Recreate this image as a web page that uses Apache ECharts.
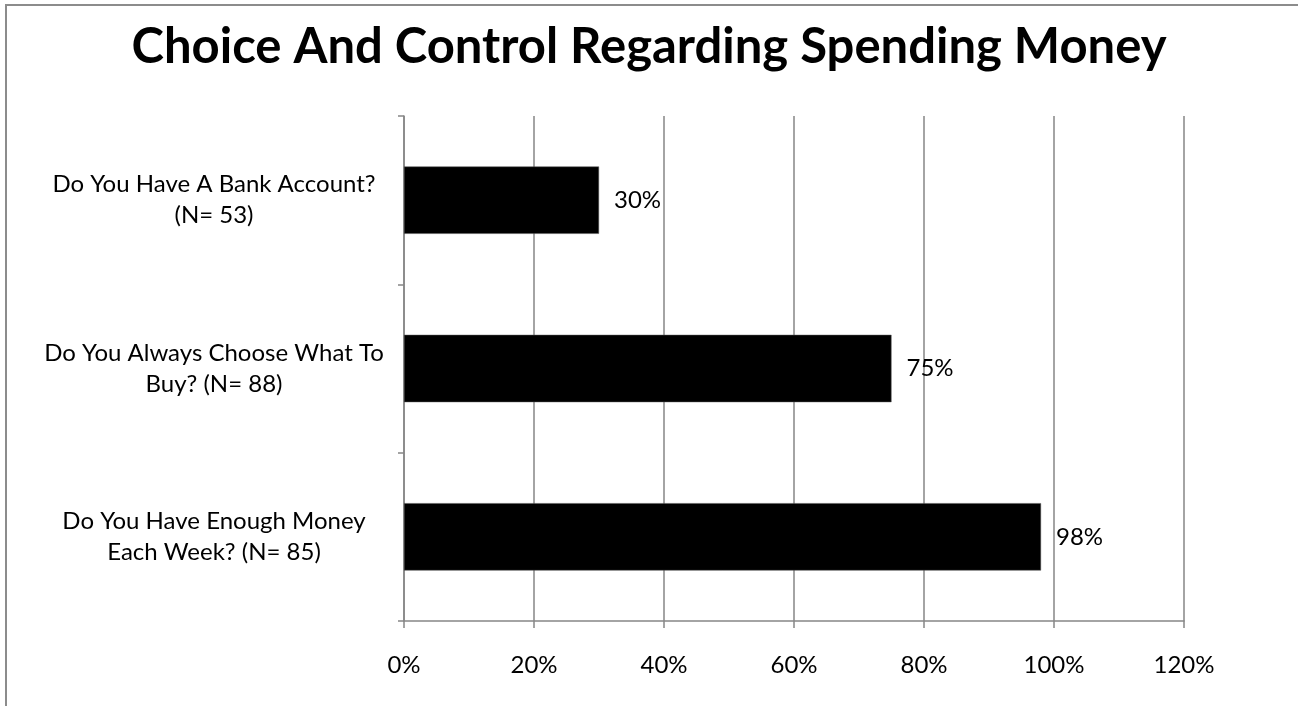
<!DOCTYPE html>
<html>
<head>
<meta charset="utf-8">
<script src="https://cdn.jsdelivr.net/npm/echarts@6/dist/echarts.min.js"></script>
<style>
html,body{margin:0;padding:0;background:#fff;}
#chart{width:1298px;height:706px;}
</style>
</head>
<body>
<div id="chart"></div>
<script>
const titleText = 'Choice And Control Regarding Spending Money';
const categories = [
  'Do You Have A Bank Account?\n(N= 53)',
  'Do You Always Choose What To\nBuy? (N= 88)',
  'Do You Have Enough Money\nEach Week? (N= 85)'
];
const values = [30, 75, 98];
const xTicks = [0, 20, 40, 60, 80, 100, 120];

const chart = echarts.init(document.getElementById('chart'), null, {renderer: 'canvas'});
const FONT = 'Lato, "Open Sans", sans-serif';
chart.setOption({
  backgroundColor: '#fff',
  animation: false,
  title: {
    text: titleText,
    left: 'center',
    top: 18,
    textStyle: {fontFamily: FONT, fontWeight: 'bold', fontSize: 49, color: '#000'}
  },
  graphic: [{
    type: 'rect',
    shape: {x: 6, y: 5, width: 1400, height: 800},
    style: {fill: 'none', stroke: '#8c8c8c', lineWidth: 2},
    silent: true
  }],
  grid: {left: 404, right: 114, top: 116, bottom: 85, containLabel: false},
  xAxis: {
    type: 'value',
    min: xTicks[0],
    max: xTicks[xTicks.length - 1],
    interval: 20,
    axisLine: {show: true, lineStyle: {color: '#868686', width: 1.5}},
    axisTick: {show: true, length: 7, lineStyle: {color: '#868686', width: 1.5}},
    splitLine: {show: true, lineStyle: {color: '#868686', width: 1.5}},
    axisLabel: {
      margin: 32,
      fontFamily: FONT, fontSize: 24, color: '#000',
      formatter: v => v + '%'
    }
  },
  yAxis: {
    type: 'category',
    inverse: true,
    data: categories,
    axisLine: {show: true, lineStyle: {color: '#868686', width: 1.5}},
    axisTick: {show: true, length: 6, lineStyle: {color: '#868686', width: 1.5}},
    axisLabel: {
      margin: 190,
      align: 'center',
      fontFamily: FONT, fontSize: 24, lineHeight: 31, color: '#000'
    }
  },
  series: [{
    type: 'bar',
    data: values,
    barCategoryGap: '60%',
    itemStyle: {color: '#000', borderColor: '#555', borderWidth: 0.5},
    label: {
      show: true,
      position: 'right',
      distance: 15,
      fontFamily: FONT, fontSize: 24, color: '#000',
      formatter: p => p.value + '%'
    }
  }]
});
</script>
</body>
</html>
